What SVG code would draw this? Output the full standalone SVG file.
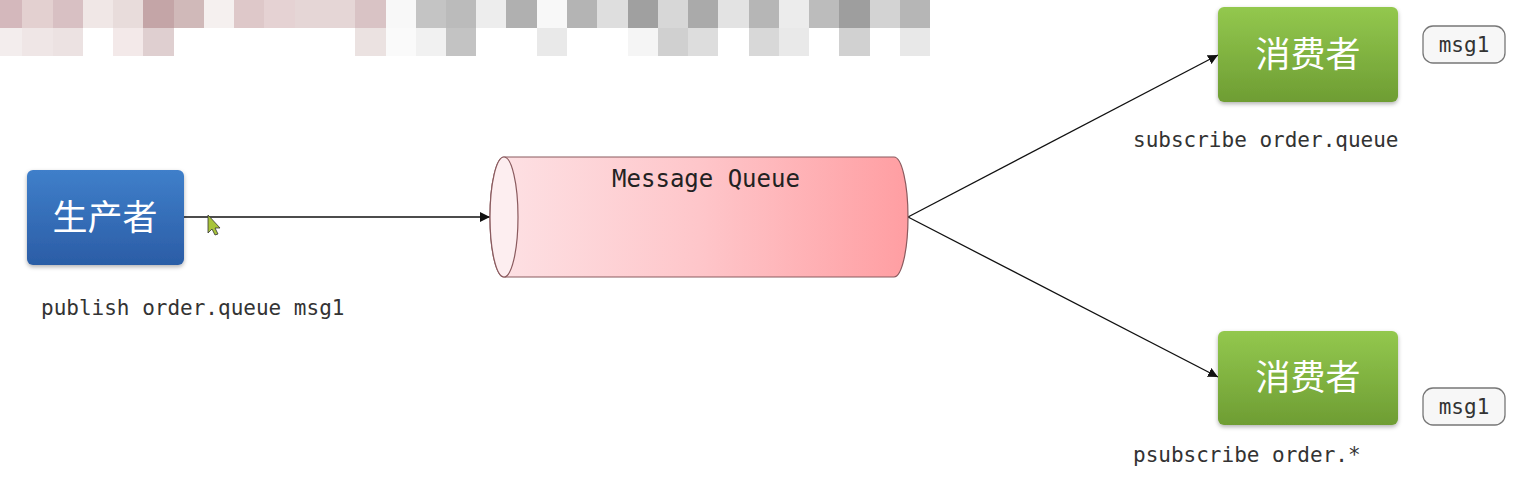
<svg xmlns="http://www.w3.org/2000/svg" width="1534" height="479" viewBox="0 0 1534 479">
<style>
.mono{font-family:"DejaVu Sans Mono","Liberation Mono",monospace;fill:#333}
.cn{font-family:"Noto Sans CJK SC","Noto Sans",sans-serif;fill:#fff;font-size:35px;text-anchor:middle}
.edge{stroke:#111;stroke-width:1.3;fill:none;marker-end:url(#arr)}
.tag{fill:#f7f7f7;stroke:#777;stroke-width:1.3}
</style>
<defs>
<linearGradient id="blue" x1="0" y1="0" x2="0" y2="1"><stop offset="0" stop-color="#3f7fca"/><stop offset="1" stop-color="#2b5da6"/></linearGradient>
<linearGradient id="green" x1="0" y1="0" x2="0" y2="1"><stop offset="0" stop-color="#93c84e"/><stop offset="1" stop-color="#6e9d33"/></linearGradient>
<linearGradient id="pink" x1="0" y1="0" x2="1" y2="0"><stop offset="0" stop-color="#fde2e5"/><stop offset="0.5" stop-color="#fec6ca"/><stop offset="1" stop-color="#ff9ea2"/></linearGradient>
<filter id="sh" x="-10%" y="-10%" width="120%" height="130%"><feDropShadow dx="0" dy="2" stdDeviation="2" flood-color="#000" flood-opacity="0.3"/></filter>
<marker id="arr" viewBox="0 0 10 10" refX="10" refY="5" markerWidth="10" markerHeight="10" markerUnits="userSpaceOnUse" orient="auto"><path d="M0,0 L10,5 L0,10 z" fill="#111"/></marker>
</defs>
<rect width="1534" height="479" fill="#fff"/>
<g id="mosaic">
<rect x="0" y="0" width="22" height="28" fill="#d4b8bc"/><rect x="22" y="0" width="31" height="28" fill="#e3d0d0"/><rect x="53" y="0" width="30" height="28" fill="#d8c0c3"/><rect x="83" y="0" width="30" height="28" fill="#f0e7e6"/><rect x="113" y="0" width="30" height="28" fill="#e8dcdb"/><rect x="143" y="0" width="31" height="28" fill="#c4a5a7"/><rect x="174" y="0" width="30" height="28" fill="#d0b9b9"/><rect x="204" y="0" width="30" height="28" fill="#f5f0ef"/><rect x="234" y="0" width="30" height="28" fill="#dec8c9"/><rect x="264" y="0" width="31" height="28" fill="#e5d2d3"/><rect x="295" y="0" width="60" height="28" fill="#e5d6d6"/><rect x="355" y="0" width="31" height="28" fill="#d9c3c5"/><rect x="386" y="0" width="30" height="28" fill="#f8f8f8"/><rect x="416" y="0" width="30" height="28" fill="#c4c4c4"/><rect x="446" y="0" width="30" height="28" fill="#bbbbbb"/><rect x="476" y="0" width="30" height="28" fill="#ededed"/><rect x="506" y="0" width="31" height="28" fill="#b0b0b0"/><rect x="537" y="0" width="30" height="28" fill="#f8f8f8"/><rect x="567" y="0" width="30" height="28" fill="#b4b4b4"/><rect x="597" y="0" width="31" height="28" fill="#dedede"/><rect x="628" y="0" width="30" height="28" fill="#a0a0a0"/><rect x="658" y="0" width="30" height="28" fill="#d7d7d7"/><rect x="688" y="0" width="30" height="28" fill="#aaaaaa"/><rect x="718" y="0" width="31" height="28" fill="#e3e3e3"/><rect x="749" y="0" width="30" height="28" fill="#b6b6b6"/><rect x="779" y="0" width="30" height="28" fill="#ececec"/><rect x="809" y="0" width="30" height="28" fill="#bcbcbc"/><rect x="839" y="0" width="31" height="28" fill="#9e9e9e"/><rect x="870" y="0" width="30" height="28" fill="#d3d3d3"/><rect x="900" y="0" width="30" height="28" fill="#b6b6b6"/>
<rect x="0" y="28" width="22" height="28" fill="#f3eded"/><rect x="22" y="28" width="31" height="28" fill="#efe6e6"/><rect x="53" y="28" width="30" height="28" fill="#ece2e2"/><rect x="113" y="28" width="30" height="28" fill="#f3e9e9"/><rect x="143" y="28" width="31" height="28" fill="#dfcfd0"/><rect x="355" y="28" width="31" height="28" fill="#ebe2e1"/><rect x="386" y="28" width="30" height="28" fill="#fafafa"/><rect x="416" y="28" width="30" height="28" fill="#f1f1f1"/><rect x="446" y="28" width="30" height="28" fill="#c3c3c3"/><rect x="537" y="28" width="30" height="28" fill="#e9e9e9"/><rect x="628" y="28" width="30" height="28" fill="#f5f5f5"/><rect x="658" y="28" width="30" height="28" fill="#d0d0d0"/><rect x="688" y="28" width="30" height="28" fill="#dddddd"/><rect x="749" y="28" width="30" height="28" fill="#d8d8d8"/><rect x="779" y="28" width="30" height="28" fill="#e9e9e9"/><rect x="839" y="28" width="31" height="28" fill="#d1d1d1"/><rect x="900" y="28" width="30" height="28" fill="#e8e8e8"/>
</g>
<g id="connectors">
<line class="edge" x1="184" y1="217" x2="490" y2="217"/>
<line class="edge" x1="908" y1="217" x2="1218" y2="55"/>
<line class="edge" x1="908" y1="217" x2="1218" y2="377"/>
</g>
<g id="producer">
<rect x="27" y="170" width="157" height="95" rx="6" fill="url(#blue)" filter="url(#sh)"/>
<text class="cn" x="105" y="230">生产者</text>
<text class="mono" x="41" y="315" font-size="21">publish order.queue msg1</text>
</g>
<g id="queue">
<path d="M504,157 L894,157 A14,60 0 0 1 894,277 L504,277 A14,60 0 0 1 504,157 Z" fill="url(#pink)" stroke="#8a5a5e" stroke-width="1.2"/>
<ellipse cx="504" cy="217" rx="14" ry="60" fill="#fdeef0" stroke="#8a5a5e" stroke-width="1.2"/>
<text class="mono" x="706" y="187" font-size="24" text-anchor="middle" style="fill:#222">Message Queue</text>
</g>
<g id="consumer1">
<rect x="1218" y="7" width="180" height="95" rx="6" fill="url(#green)" filter="url(#sh)"/>
<text class="cn" x="1308" y="67">消费者</text>
<text class="mono" x="1133" y="147" font-size="21">subscribe order.queue</text>
</g>
<g id="tag1">
<rect class="tag" x="1423" y="26" width="82" height="37" rx="10"/>
<text class="mono" x="1464" y="52" font-size="21" text-anchor="middle">msg1</text>
</g>
<g id="consumer2">
<rect x="1218" y="331" width="180" height="94" rx="6" fill="url(#green)" filter="url(#sh)"/>
<text class="cn" x="1308" y="390">消费者</text>
<text class="mono" x="1133" y="462" font-size="21">psubscribe order.*</text>
</g>
<g id="tag2">
<rect class="tag" x="1423" y="388" width="82" height="37" rx="10"/>
<text class="mono" x="1464" y="414" font-size="21" text-anchor="middle">msg1</text>
</g>
<g id="cursor">
<path d="M208,215 L208,233 L212,229 L215,235 L218,234 L215,228 L220,228 Z" fill="#a8c43a" stroke="#333" stroke-width="0.8"/>
</g>
</svg>
